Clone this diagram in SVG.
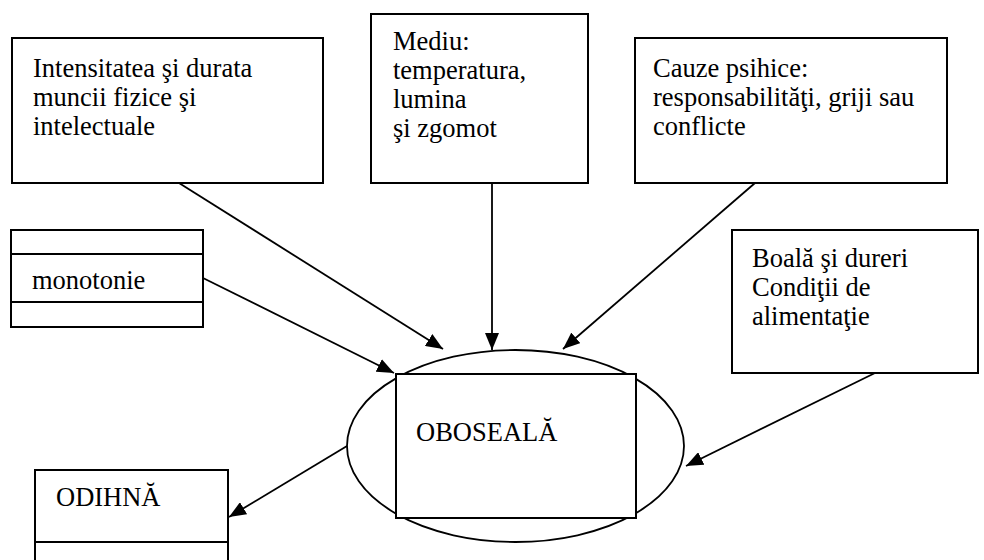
<svg xmlns="http://www.w3.org/2000/svg" width="984" height="560" viewBox="0 0 984 560">
  <style>
    .box { fill: #fff; stroke: #000; stroke-width: 2; }
    .div { stroke: #000; stroke-width: 2; fill: none; }
    .lbl { font-family: "Liberation Serif", "Times New Roman", serif; font-size: 26.5px; fill: #000; }
    .edge { stroke: #000; stroke-width: 1.8; fill: none; marker-end: url(#arrow); }
  </style>
  <defs>
    <marker id="arrow" markerUnits="userSpaceOnUse" markerWidth="18" markerHeight="14" refX="17" refY="7" orient="auto">
      <path d="M0,0 L17,7 L0,14 z" fill="#000"/>
    </marker>
  </defs>
  <rect width="984" height="560" fill="#fff"/>

  <!-- central node: ellipse with a box inside -->
  <g id="oboseala">
    <ellipse cx="515.5" cy="446" rx="168.5" ry="96" fill="#fff" stroke="#000" stroke-width="1.8"/>
    <rect class="box" x="396" y="374" width="240" height="144"/>
    <text class="lbl" x="416" y="441">OBOSEALĂ</text>
  </g>

  <g id="intensitatea">
    <rect class="box" x="12" y="38" width="311" height="145"/>
    <text class="lbl" x="33" y="77">Intensitatea şi durata</text>
    <text class="lbl" x="33" y="106">muncii fizice şi</text>
    <text class="lbl" x="33" y="135">intelectuale</text>
  </g>

  <g id="mediu">
    <rect class="box" x="371" y="14" width="217" height="169"/>
    <text class="lbl" x="393" y="50">Mediu:</text>
    <text class="lbl" x="393" y="79">temperatura,</text>
    <text class="lbl" x="393" y="108">lumina</text>
    <text class="lbl" x="393" y="137">şi zgomot</text>
  </g>

  <g id="cauze">
    <rect class="box" x="635" y="38" width="312" height="145"/>
    <text class="lbl" x="653" y="77">Cauze psihice:</text>
    <text class="lbl" x="653" y="106">responsabilităţi, griji sau</text>
    <text class="lbl" x="653" y="135">conflicte</text>
  </g>

  <g id="boala">
    <rect class="box" x="732" y="230" width="246" height="143"/>
    <text class="lbl" x="752" y="267">Boală şi dureri</text>
    <text class="lbl" x="752" y="296">Condiţii de</text>
    <text class="lbl" x="752" y="325">alimentaţie</text>
  </g>

  <g id="monotonie">
    <rect class="box" x="11" y="230" width="192" height="97"/>
    <line class="div" x1="11" y1="254" x2="203" y2="254"/>
    <line class="div" x1="11" y1="302" x2="203" y2="302"/>
    <text class="lbl" x="32" y="289">monotonie</text>
  </g>

  <g id="odihna">
    <rect class="box" x="35" y="470" width="193" height="100"/>
    <line class="div" x1="35" y1="542" x2="228" y2="542"/>
    <text class="lbl" x="56" y="506">ODIHNĂ</text>
  </g>

  <g id="connectors">
    <line class="edge" x1="179" y1="183" x2="443" y2="349"/>
    <line class="edge" x1="492" y1="183" x2="492" y2="350"/>
    <line class="edge" x1="755" y1="183" x2="563" y2="349"/>
    <line class="edge" x1="203" y1="278" x2="394" y2="373"/>
    <line class="edge" x1="875" y1="373" x2="686" y2="466"/>
    <line class="edge" x1="347" y1="446" x2="229" y2="517"/>
  </g>
</svg>
